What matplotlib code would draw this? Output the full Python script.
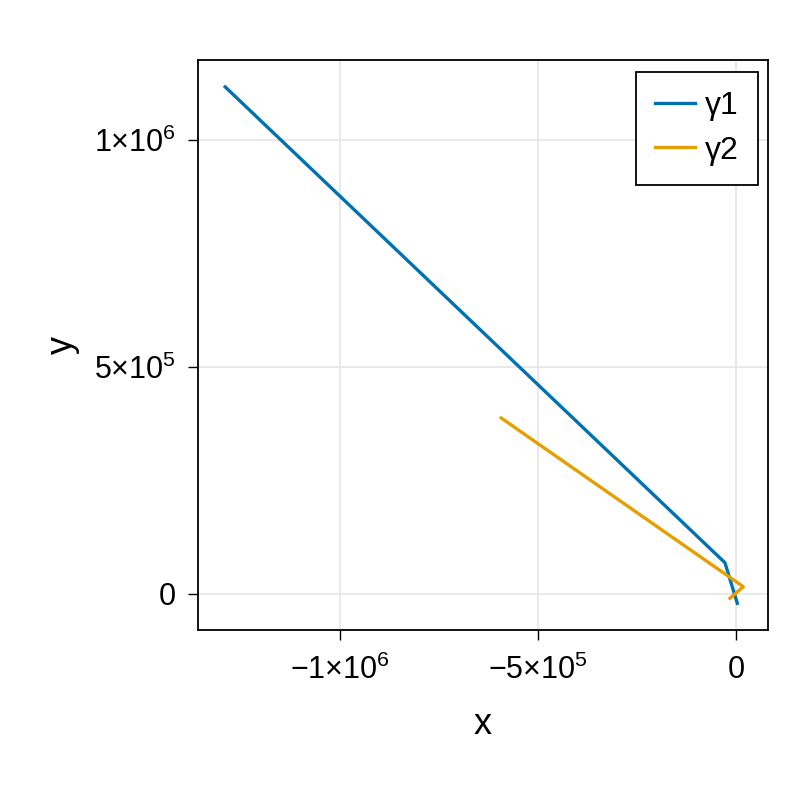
import numpy as np
from matplotlib import pyplot as plt
from matplotlib.ticker import FixedLocator, FixedFormatter

gamma1_x = [-1.29e6, -2.8e4, 3.3e3]
gamma1_y = [1.117e6, 6.9e4, -2.05e4]
gamma2_x = [-5.93e5, 1.84e4, -1.52e4]
gamma2_y = [3.877e5, 1.61e4, -9.5e3]
series_labels = ["γ1", "γ2"]

xticks = [-1e6, -5e5, 0]
xtick_labels = [r"$-1{\times}10^{6}$", r"$-5{\times}10^{5}$", "0"]
yticks = [0, 5e5, 1e6]
ytick_labels = ["0", r"$5{\times}10^{5}$", r"$1{\times}10^{6}$"]

plt.rcParams['font.family'] = ['Liberation Sans', 'DejaVu Sans']
plt.rcParams['mathtext.fontset'] = 'custom'
plt.rcParams['mathtext.rm'] = 'Liberation Sans'
plt.rcParams['mathtext.it'] = 'Liberation Sans'
plt.rcParams['mathtext.default'] = 'regular'

fig = plt.figure(figsize=(8, 8), dpi=100)
ax = fig.add_axes([198/800, 1 - 630/800, 570/800, 570/800])

ax.plot(gamma1_x, gamma1_y, color="#0072b2", lw=2.4, label=series_labels[0])
ax.plot(gamma2_x, gamma2_y, color="#e69f00", lw=2.4, label=series_labels[1])

ax.set_xlim(-1.3586e6, 8.08e4)
ax.set_ylim(-7.93e4, 1.1762e6)

ax.xaxis.set_major_locator(FixedLocator(xticks))
ax.xaxis.set_major_formatter(FixedFormatter(xtick_labels))
ax.yaxis.set_major_locator(FixedLocator(yticks))
ax.yaxis.set_major_formatter(FixedFormatter(ytick_labels))
ax.tick_params(direction="out", length=7, width=1, labelsize=22)
ax.tick_params(axis="x", pad=11)
ax.tick_params(axis="y", pad=9)
ax.grid(True, color="#e5e5e5", lw=1.2)
ax.set_axisbelow(True)
for s in ax.spines.values():
    s.set_linewidth(1.3)

ax.set_xlabel("x", fontsize=26, labelpad=15)
ax.set_ylabel("y", fontsize=26, labelpad=10)

leg = ax.legend(loc="upper right", bbox_to_anchor=(0.9825, 0.979),
                fontsize=23, fancybox=False, framealpha=1,
                edgecolor="black", borderpad=0.6, handlelength=1.25,
                handletextpad=0.3, labelspacing=0.45, borderaxespad=0)
leg.get_frame().set_linewidth(1.3)

fig.savefig("out.png", dpi=100)
